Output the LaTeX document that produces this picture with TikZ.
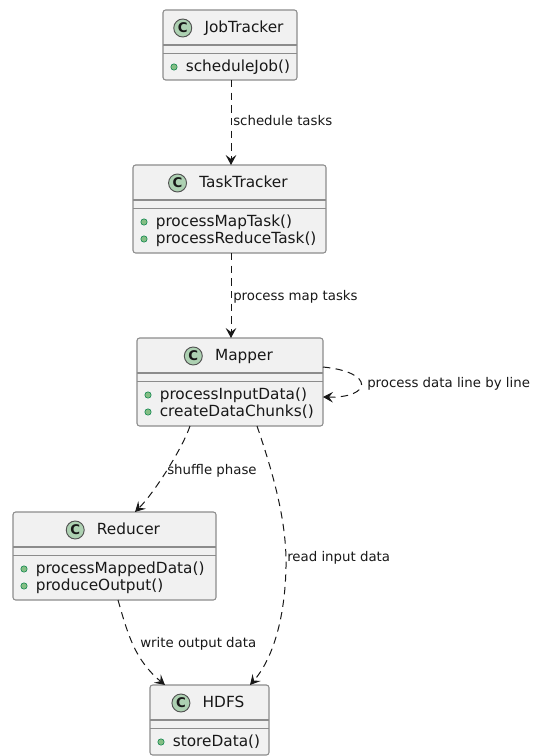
\documentclass[tikz,border=0pt]{standalone}
\usepackage{fontspec}
\setmainfont{DejaVu Sans}
\usetikzlibrary{arrows.meta,calc,fit}

\definecolor{boxfill}{HTML}{F1F1F1}
\definecolor{boxline}{HTML}{8C8C8C}
\definecolor{spotfill}{HTML}{ADD1B2}
\definecolor{dotfill}{HTML}{84BE84}
\definecolor{dotline}{HTML}{038048}
\definecolor{ink}{HTML}{181818}

\tikzset{
  classbox/.style={draw=boxline, fill=boxfill, line width=0.8pt, rounded corners=2pt,
    inner sep=0pt, outer sep=0pt},
  sepline/.style={draw=boxline, line width=0.8pt},
  classname/.style={inner sep=0pt, anchor=center, text height=0.9em, text depth=0.2em,
    font=\fontsize{11.5pt}{13pt}\selectfont, text=ink},
  classspot/.style={circle, draw=ink!75, fill=spotfill, line width=0.7pt,
    minimum size=13.5pt, inner sep=0pt, font=\fontsize{10pt}{10pt}\selectfont\bfseries, text=ink},
  memberdot/.style={circle, fill=dotfill, draw=dotline, line width=0.4pt,
    minimum size=4.8pt, inner sep=0pt},
  membertext/.style={inner sep=0pt, anchor=west, text height=0.9em, text depth=0.2em,
    font=\fontsize{11.5pt}{13pt}\selectfont, text=ink},
  linklabel/.style={inner sep=0pt, anchor=west, text height=0.9em, text depth=0.2em,
    font=\fontsize{10pt}{12pt}\selectfont, text=ink},
  dep/.style={draw=ink, line width=0.75pt, dash pattern=on 5.5pt off 4pt,
    -{Stealth[length=7.5pt, width=8pt, inset=3pt]}},
}

% class box: id, left, top, right, bottom, name
\newcommand\umlclass[6]{%
  \node[classbox, fit={(#2,#3) (#4,#5)}] (#1) {};
  \draw[sepline] ($(#1.north west)+(0,35)$) -- ($(#1.north east)+(0,35)$);
  \draw[sepline] ($(#1.north west)+(0,43.5)$) -- ($(#1.north east)+(0,43.5)$);
  \node[classname] (#1-name) at ($(#1.north)+(14,18)$) {#6};
  \node[classspot] (#1-spot) at ($(#1-name.west)+(-21.5,0)$) {C};
}
% member line: class id, member id, offset from top, text
\newcommand\umlmember[4]{%
  \node[memberdot] (#1-#2-dot) at ($(#1.north west)+(11,#3)$) {};
  \node[membertext] (#1-#2) at ($(#1.north west)+(22.5,#3)$) {#4};
}

\begin{document}
\begin{tikzpicture}[x=0.75pt, y=-0.75pt]
  \useasboundingbox (0,0) rectangle (538,756);

  % classes
  \umlclass{jt}{163}{10}{297}{80}{JobTracker}
  \umlmember{jt}{a}{57}{scheduleJob()}

  \umlclass{tt}{133}{165}{326}{253}{TaskTracker}
  \umlmember{tt}{a}{57}{processMapTask()}
  \umlmember{tt}{b}{74}{processReduceTask()}

  \umlclass{mp}{137}{338}{323}{426}{Mapper}
  \umlmember{mp}{a}{57}{processInputData()}
  \umlmember{mp}{b}{74}{createDataChunks()}

  \umlclass{rd}{13}{512}{216}{600}{Reducer}
  \umlmember{rd}{a}{57}{processMappedData()}
  \umlmember{rd}{b}{74}{produceOutput()}

  \umlclass{hd}{150}{685}{269}{755}{HDFS}
  \umlmember{hd}{a}{57}{storeData()}

  % dependencies
  \draw[dep] ($(jt.south)+(1,0)$) -- ($(jt.south |- tt.north)+(1,0)$);
  \node[linklabel] (l1) at (233,121) {schedule tasks};

  \draw[dep] ($(mp.north |- tt.south)+(1,0)$) -- ($(mp.north)+(1,0)$);
  \node[linklabel] (l2) at (233,296) {process map tasks};

  \draw[dep] ($(mp.north east)+(0,29)$) .. controls (375,372) and (372,398) .. ($(mp.north east)+(0,59)$);
  \node[linklabel] (l3) at (367,383) {process data line by line};

  \draw[dep] ($(mp.south west)+(53,0)$) .. controls (183,447) and (155,492) .. ($(rd.north west)+(122,0)$);
  \node[linklabel] (l4) at (167,470) {shuffle phase};

  \coordinate (rid) at (286,567);
  \draw[dep] ($(mp.south west)+(120,0)$) .. controls (272,470) and (287,520) .. (rid)
    .. controls (285,620) and (272,660) .. ($(hd.north west)+(100,0)$);
  \node[linklabel] (l5) at (287,557) {read input data};

  \draw[dep] ($(rd.south west)+(105,0)$) .. controls (128,635) and (135,660) .. ($(hd.north west)+(15,0)$);
  \node[linklabel] (l6) at (140,643) {write output data};
\end{tikzpicture}
\end{document}
